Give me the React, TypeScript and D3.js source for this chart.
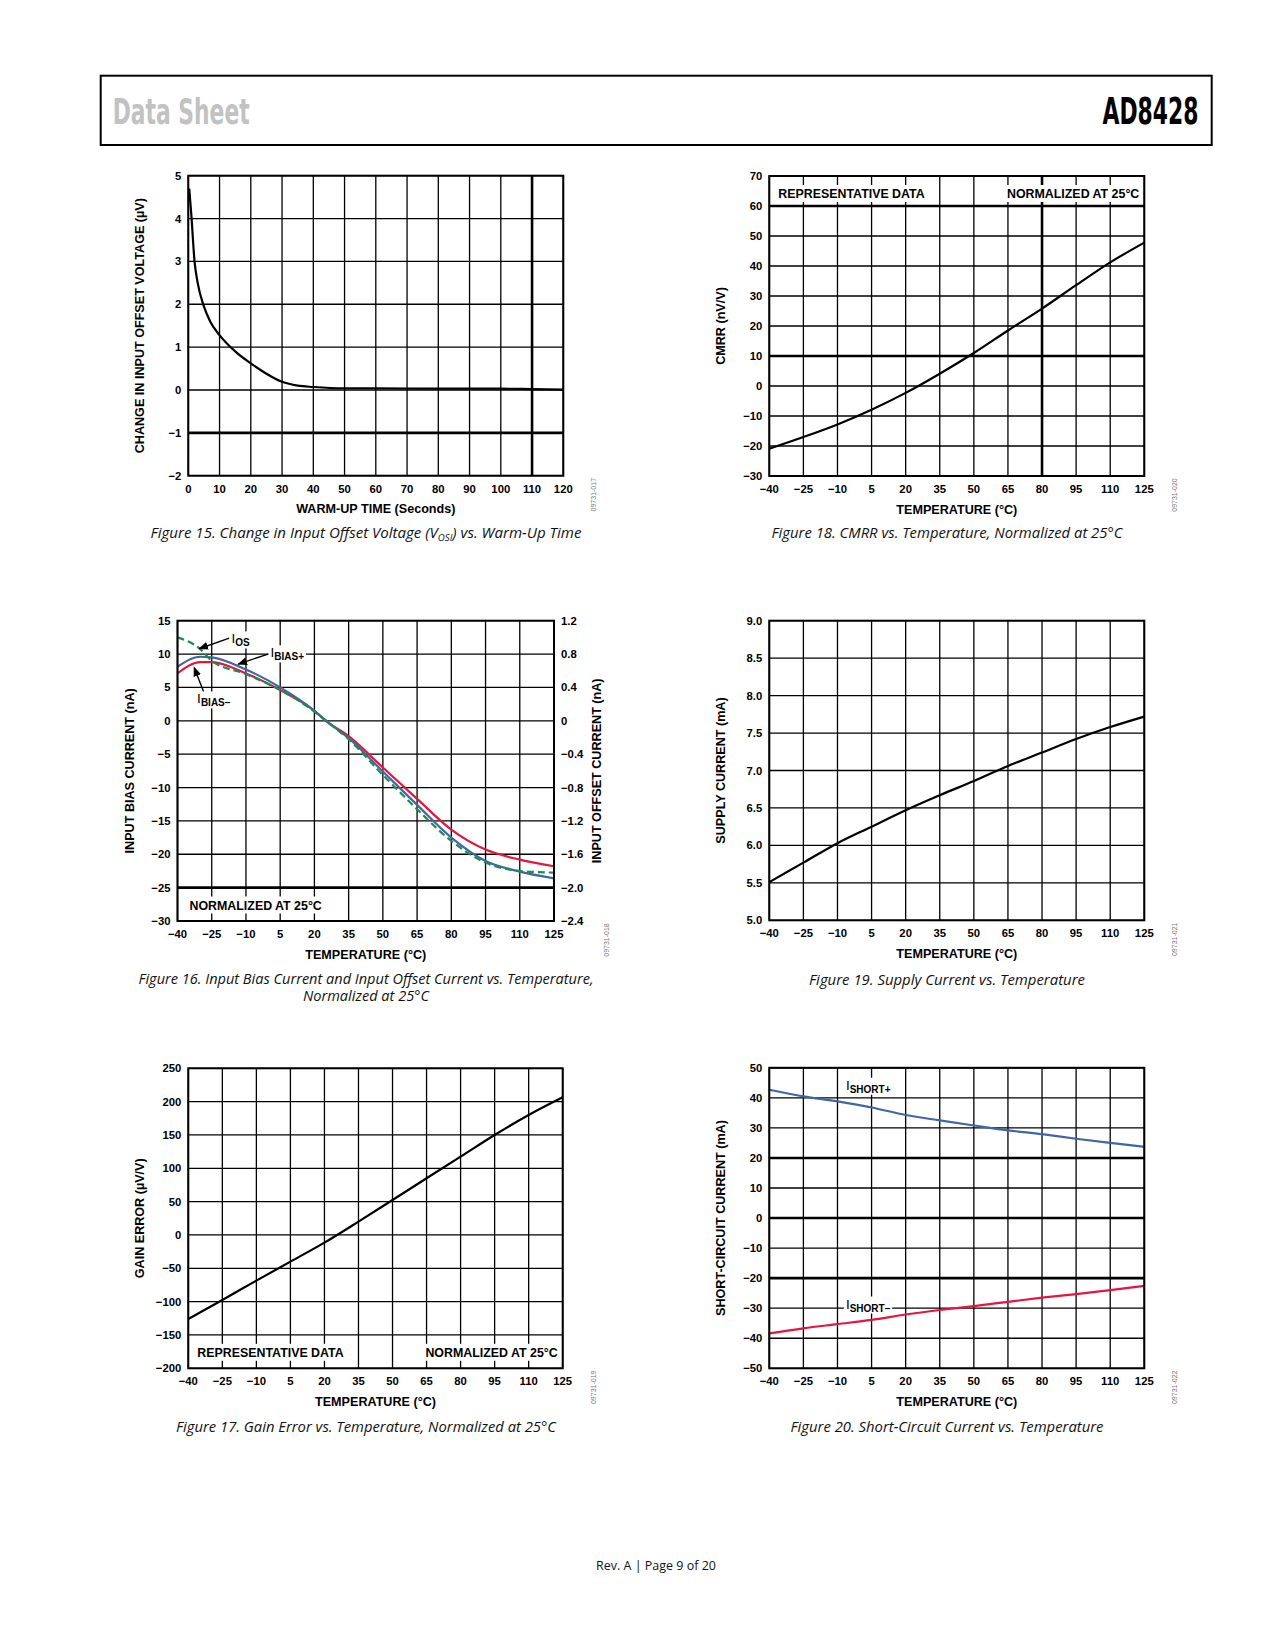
import React from "react";
import * as d3 from "d3";

// ---- Figure 15: warm-up drift ----
const warmupTime = [0.3, 1, 2, 3, 5, 7, 10, 15, 20, 25, 30, 35, 40, 50, 60, 80, 100, 110, 120];
const warmupVos = [4.7, 4.05, 3.0, 2.5, 1.95, 1.6, 1.28, 0.9, 0.62, 0.38, 0.19, 0.1, 0.07, 0.04, 0.04, 0.03, 0.03, 0.02, 0.01];
const warmupXTicks = [0, 10, 20, 30, 40, 50, 60, 70, 80, 90, 100, 110, 120];
const warmupYTicks = [-2, -1, 0, 1, 2, 3, 4, 5];

// ---- shared temperature axis ----
const tempC = [-40, -25, -10, 5, 20, 35, 50, 65, 80, 95, 110, 125];
const tempTicks = [-40, -25, -10, 5, 20, 35, 50, 65, 80, 95, 110, 125];

// ---- Figure 18: CMRR ----
const cmrr = [-20.9, -17.0, -12.8, -7.9, -2.3, 4.1, 11.0, 18.5, 25.8, 33.6, 41.2, 47.8];
const cmrrTicks = [-30, -20, -10, 0, 10, 20, 30, 40, 50, 60, 70];

// ---- Figure 16: bias / offset current ----
const biasTemp = [-40, -30, -25, -10, 5, 20, 25, 35, 50, 65, 80, 95, 110, 125];
const iBiasPos = [8.1, 9.6, 9.5, 7.7, 5.0, 1.5, 0.05, -2.6, -7.6, -12.6, -17.5, -21.0, -22.6, -23.6];
const iBiasNeg = [7.1, 8.8, 8.8, 7.1, 4.6, 1.5, 0, -2.3, -7.0, -11.7, -16.3, -19.3, -20.8, -21.8];
const iOffset = [1.0, 0.86, 0.72, 0.56, 0.37, 0.11, 0, -0.22, -0.65, -1.06, -1.44, -1.70, -1.80, -1.82];
const biasTicks = [-30, -25, -20, -15, -10, -5, 0, 5, 10, 15];
const offsetTicks = [-2.4, -2.0, -1.6, -1.2, -0.8, -0.4, 0, 0.4, 0.8, 1.2];

// ---- Figure 19: supply current ----
const supplyCurrent = [5.51, 5.77, 6.03, 6.25, 6.47, 6.67, 6.86, 7.06, 7.24, 7.42, 7.58, 7.72];
const supplyTicks = [5.0, 5.5, 6.0, 6.5, 7.0, 7.5, 8.0, 8.5, 9.0];

// ---- Figure 17: gain error ----
const gainError = [-126, -97.5, -68.5, -40, -11.5, 20, 52.5, 85, 117.5, 150, 180, 206.5];
const gainTicks = [-200, -150, -100, -50, 0, 50, 100, 150, 200, 250];

// ---- Figure 20: short-circuit current ----
const iShortPos = [42.7, 40.5, 38.8, 36.8, 34.3, 32.5, 30.8, 29.2, 27.9, 26.4, 25.0, 23.7];
const iShortNeg = [-38.4, -36.7, -35.3, -33.9, -32.1, -30.6, -29.3, -27.9, -26.5, -25.3, -24.0, -22.6];
const shortTicks = [-50, -40, -30, -20, -10, 0, 10, 20, 30, 40, 50];

const FONT = "'Liberation Sans', Arial, Helvetica, sans-serif";
const CAP_FONT = "'Open Sans', 'Noto Sans', sans-serif";
const BLUE = "#4066a6";
const RED = "#e3163f";
const GREEN = "#1f8a4b";

const minus = (s: string) => s.replace("-", "\u2212");
const fmtInt = (v: number) => minus(String(v));
const fmt1 = (v: number) => minus(v.toFixed(1));
const fmtOff = (v: number) => (v === 0 ? "0" : minus(v.toFixed(1)));

let ctx: CanvasRenderingContext2D | null = null;
function textWidth(s: string, font: string) {
  if (!ctx) ctx = document.createElement("canvas").getContext("2d");
  if (!ctx) return s.length * 7;
  ctx.font = font;
  return ctx.measureText(s).width;
}

type Series = { xs: number[]; ys: number[]; color: string; dash?: string; right?: boolean };
type Band = { text: string; anchor: "start" | "end"; band: "top" | "bottom" };
type Scales = { x: d3.ScaleLinear<number, number>; y: d3.ScaleLinear<number, number>; yR?: d3.ScaleLinear<number, number> };

interface PanelProps {
  left: number;
  top: number;
  width: number;
  height: number;
  xDomain: [number, number];
  xTicks: number[];
  yDomain: [number, number];
  yTicks: number[];
  yFmt: (v: number) => string;
  thickX?: number[];
  thickY?: number[];
  xTitle: string;
  yTitle: string;
  right?: { domain: [number, number]; ticks: number[]; fmt: (v: number) => string; title: string };
  series: Series[];
  bands?: Band[];
  code: string;
  annotate?: (s: Scales) => React.ReactNode;
}

function Panel(p: PanelProps) {
  const x = d3.scaleLinear().domain(p.xDomain).range([p.left, p.left + p.width]);
  const y = d3.scaleLinear().domain(p.yDomain).range([p.top + p.height, p.top]);
  const yR = p.right ? d3.scaleLinear().domain(p.right.domain).range([p.top + p.height, p.top]) : undefined;
  const bottom = p.top + p.height;
  const rightEdge = p.left + p.width;
  const bandSize = 12.4;
  const bandFont = `bold ${bandSize}px ${FONT}`;

  return (
    <g>
      {/* grid */}
      {p.xTicks.map((t) => (
        <line key={"gx" + t} x1={x(t)} x2={x(t)} y1={p.top} y2={bottom} stroke="#000"
          strokeWidth={p.thickX?.includes(t) ? 2.6 : 1.3} />
      ))}
      {p.yTicks.map((t) => (
        <line key={"gy" + t} x1={p.left} x2={rightEdge} y1={y(t)} y2={y(t)} stroke="#000"
          strokeWidth={p.thickY?.includes(t) ? 2.6 : 1.3} />
      ))}

      {/* band labels with white backing */}
      {(p.bands || []).map((b, i) => {
        const w = textWidth(b.text, bandFont);
        const base = b.band === "top" ? p.top + 22 : bottom - 11.5;
        const tx = b.anchor === "start" ? p.left + (b.band === "top" || p.right === undefined ? 9 : 12) : rightEdge - 5;
        const rx = b.anchor === "start" ? tx - 3 : tx - w - 3;
        return (
          <g key={"band" + i}>
            <rect x={rx} y={base - 13} width={w + 6} height={17} fill="#fff" />
            <text x={tx} y={base} textAnchor={b.anchor} fontFamily={FONT} fontWeight="bold" fontSize={bandSize}>
              {b.text}
            </text>
          </g>
        );
      })}

      {/* series */}
      {p.series.map((s, i) => {
        const sc = s.right && yR ? yR : y;
        const line = d3
          .line<number>()
          .x((_, j) => x(s.xs[j]))
          .y((d) => sc(d))
          .curve(d3.curveMonotoneX);
        return (
          <path key={"s" + i} d={line(s.ys) || ""} fill="none" stroke={s.color} strokeWidth={2.2}
            strokeDasharray={s.dash} strokeLinejoin="round" />
        );
      })}

      {p.annotate && p.annotate({ x, y, yR })}

      {/* frame */}
      <rect x={p.left} y={p.top} width={p.width} height={p.height} fill="none" stroke="#000" strokeWidth={2} />

      {/* tick labels */}
      {p.xTicks.map((t) => (
        <text key={"tx" + t} x={x(t)} y={bottom + 17} textAnchor="middle" fontFamily={FONT}
          fontWeight="bold" fontSize={11.3}>
          {fmtInt(t)}
        </text>
      ))}
      {p.yTicks.map((t) => (
        <text key={"ty" + t} x={p.left - 7} y={y(t) + 4} textAnchor="end" fontFamily={FONT}
          fontWeight="bold" fontSize={11.3}>
          {p.yFmt(t)}
        </text>
      ))}
      {p.right && yR &&
        p.right.ticks.map((t) => (
          <text key={"tr" + t} x={rightEdge + 7} y={yR(t) + 4} textAnchor="start" fontFamily={FONT}
            fontWeight="bold" fontSize={11.3}>
            {p.right!.fmt(t)}
          </text>
        ))}

      {/* titles */}
      <text x={p.left + p.width / 2} y={bottom + 37.5} textAnchor="middle" fontFamily={FONT}
        fontWeight="bold" fontSize={12.6}>
        {p.xTitle}
      </text>
      <text transform={`translate(${p.left - 44},${p.top + p.height / 2}) rotate(-90)`} textAnchor="middle"
        fontFamily={FONT} fontWeight="bold" fontSize={12.6}>
        {p.yTitle}
      </text>
      {p.right && (
        <text transform={`translate(${rightEdge + 47},${p.top + p.height / 2}) rotate(-90)`} textAnchor="middle"
          fontFamily={FONT} fontWeight="bold" fontSize={12.6}>
          {p.right.title}
        </text>
      )}

      {/* figure code */}
      <text transform={`translate(${rightEdge + (p.right ? 55 : 33)},${bottom + 19}) rotate(-90)`}
        textAnchor="middle" fontFamily={FONT} fontSize={7} fill="#777">
        {p.code}
      </text>
    </g>
  );
}

function SubLabel({ x, y, main, sub }: { x: number; y: number; main: string; sub: string }) {
  const w = textWidth(main, `13.5px ${FONT}`) + textWidth(sub, `bold 10px ${FONT}`);
  return (
    <g>
      <rect x={x - 2} y={y - 12} width={w + 4} height={17} fill="#fff" />
      <text x={x} y={y} fontFamily={FONT} fontSize={13.5}>
        {main}
        <tspan dy={3} fontSize={10} fontWeight="bold">
          {sub}
        </tspan>
      </text>
    </g>
  );
}

function Caption({ cx, y, width, children }: { cx: number; y: number; width: number; children: React.ReactNode }) {
  return (
    <text x={cx - width / 2} y={y} textLength={width} lengthAdjust="spacingAndGlyphs" fontFamily={CAP_FONT}
      fontStyle="italic" fontSize={14} fill="#111">
      {children}
    </text>
  );
}

export default function App() {
  const arrow = (x1: number, y1: number, x2: number, y2: number, key: string) => (
    <line key={key} x1={x1} y1={y1} x2={x2} y2={y2} stroke="#000" strokeWidth={1.4} markerEnd="url(#arr)" />
  );

  return (
    <svg width={1275} height={1650} style={{ position: "absolute", left: 0, top: 0, background: "#fff" }}>
      <defs>
        <marker id="arr" viewBox="0 0 10 10" refX={9} refY={5} markerWidth={7} markerHeight={7} orient="auto">
          <path d="M0,1 L10,5 L0,9 z" fill="#000" />
        </marker>
      </defs>

      {/* page header */}
      <rect x={100.7} y={75.7} width={1111} height={69.3} fill="none" stroke="#000" strokeWidth={2} />
      <text x={112.7} y={124} fontFamily="'Liberation Sans Narrow', 'DejaVu Sans Condensed', 'Liberation Sans', sans-serif"
        fontWeight="bold" fontSize={36} fill="#c2c2c2" textLength={137} lengthAdjust="spacingAndGlyphs">
        Data Sheet
      </text>
      <text x={1102.5} y={124} fontFamily="'Liberation Sans Narrow', 'DejaVu Sans Condensed', 'Liberation Sans', sans-serif"
        fontWeight="bold" fontSize={37} fill="#000" textLength={96} lengthAdjust="spacingAndGlyphs">
        AD8428
      </text>

      {/* Figure 15 */}
      <Panel left={188.3} top={175.7} width={375} height={300} xDomain={[0, 120]} xTicks={warmupXTicks}
        yDomain={[-2, 5]} yTicks={warmupYTicks} yFmt={fmtInt} thickX={[110]} thickY={[-1]}
        xTitle="WARM-UP TIME (Seconds)" yTitle="CHANGE IN INPUT OFFSET VOLTAGE (µV)"
        series={[{ xs: warmupTime, ys: warmupVos, color: "#000" }]} code="09731-017" />
      <Caption cx={366} y={538} width={431}>
        Figure 15. Change in Input Offset Voltage (V
        <tspan fontSize={9} dy={3}>OSI</tspan>
        <tspan dy={-3}>) vs. Warm-Up Time</tspan>
      </Caption>

      {/* Figure 18 */}
      <Panel left={769.3} top={176} width={375} height={300} xDomain={[-40, 125]} xTicks={tempTicks}
        yDomain={[-30, 70]} yTicks={cmrrTicks} yFmt={fmtInt} thickX={[80]} thickY={[60, 10]}
        xTitle="TEMPERATURE (°C)" yTitle="CMRR (nV/V)"
        series={[{ xs: tempC, ys: cmrr, color: "#000" }]}
        bands={[
          { text: "REPRESENTATIVE DATA", anchor: "start", band: "top" },
          { text: "NORMALIZED AT 25°C", anchor: "end", band: "top" },
        ]}
        code="09731-020" />
      <Caption cx={947} y={538} width={351}>Figure 18. CMRR vs. Temperature, Normalized at 25°C</Caption>

      {/* Figure 16 */}
      <Panel left={177.5} top={620.7} width={376.5} height={300.3} xDomain={[-40, 125]} xTicks={tempTicks}
        yDomain={[-30, 15]} yTicks={biasTicks} yFmt={fmtInt} thickY={[-25]}
        xTitle="TEMPERATURE (°C)" yTitle="INPUT BIAS CURRENT (nA)"
        right={{ domain: [-2.4, 1.2], ticks: offsetTicks, fmt: fmtOff, title: "INPUT OFFSET CURRENT (nA)" }}
        series={[
          { xs: biasTemp, ys: iBiasNeg, color: RED },
          { xs: biasTemp, ys: iBiasPos, color: BLUE },
          { xs: biasTemp, ys: iOffset, color: GREEN, dash: "7,4", right: true },
        ]}
        bands={[{ text: "NORMALIZED AT 25°C", anchor: "start", band: "bottom" }]}
        code="09731-018"
        annotate={({ x, y }) => (
          <g>
            {arrow(x(-17.3), y(12.4), x(-30.5), y(10.8), "a1")}
            {arrow(x(-0.3), y(10.0), x(-13.4), y(8.5), "a2")}
            {arrow(x(-28.5), y(4.3), x(-32.7), y(8.0), "a3")}
            <SubLabel x={x(-16.3)} y={y(11.6)} main="I" sub="OS" />
            <SubLabel x={x(0.8)} y={y(9.5)} main="I" sub="BIAS+" />
            <SubLabel x={x(-31.4)} y={y(2.6)} main="I" sub="BIAS–" />
          </g>
        )} />
      <Caption cx={366} y={983.5} width={455}>
        Figure 16. Input Bias Current and Input Offset Current vs. Temperature,
      </Caption>
      <Caption cx={366} y={1000.5} width={126}>Normalized at 25°C</Caption>

      {/* Figure 19 */}
      <Panel left={769.3} top={620.7} width={375} height={299.6} xDomain={[-40, 125]} xTicks={tempTicks}
        yDomain={[5, 9]} yTicks={supplyTicks} yFmt={fmt1}
        xTitle="TEMPERATURE (°C)" yTitle="SUPPLY CURRENT (mA)"
        series={[{ xs: tempC, ys: supplyCurrent, color: "#000" }]} code="09731-021" />
      <Caption cx={947} y={985} width={276}>Figure 19. Supply Current vs. Temperature</Caption>

      {/* Figure 17 */}
      <Panel left={188.3} top={1068.3} width={374.4} height={300} xDomain={[-40, 125]} xTicks={tempTicks}
        yDomain={[-200, 250]} yTicks={gainTicks} yFmt={fmtInt}
        xTitle="TEMPERATURE (°C)" yTitle="GAIN ERROR (µV/V)"
        series={[{ xs: tempC, ys: gainError, color: "#000" }]}
        bands={[
          { text: "REPRESENTATIVE DATA", anchor: "start", band: "bottom" },
          { text: "NORMALIZED AT 25°C", anchor: "end", band: "bottom" },
        ]}
        code="09731-019" />
      <Caption cx={366} y={1432} width={380}>Figure 17. Gain Error vs. Temperature, Normalized at 25°C</Caption>

      {/* Figure 20 */}
      <Panel left={769.3} top={1067.8} width={375} height={300.5} xDomain={[-40, 125]} xTicks={tempTicks}
        yDomain={[-50, 50]} yTicks={shortTicks} yFmt={fmtInt} thickY={[20, 0, -20]}
        xTitle="TEMPERATURE (°C)" yTitle="SHORT-CIRCUIT CURRENT (mA)"
        series={[
          { xs: tempC, ys: iShortPos, color: BLUE },
          { xs: tempC, ys: iShortNeg, color: RED },
        ]}
        code="09731-022"
        annotate={({ x, y }) => (
          <g>
            <SubLabel x={x(-6.3)} y={y(42.7)} main="I" sub="SHORT+" />
            <SubLabel x={x(-6.3)} y={y(-30.1)} main="I" sub="SHORT–" />
          </g>
        )} />
      <Caption cx={947} y={1432} width={313}>Figure 20. Short-Circuit Current vs. Temperature</Caption>

      {/* footer */}
      <text x={656} y={1570} textAnchor="middle" fontFamily={CAP_FONT} fontSize={12.5} fill="#111">
        Rev. A | Page 9 of 20
      </text>
    </svg>
  );
}
